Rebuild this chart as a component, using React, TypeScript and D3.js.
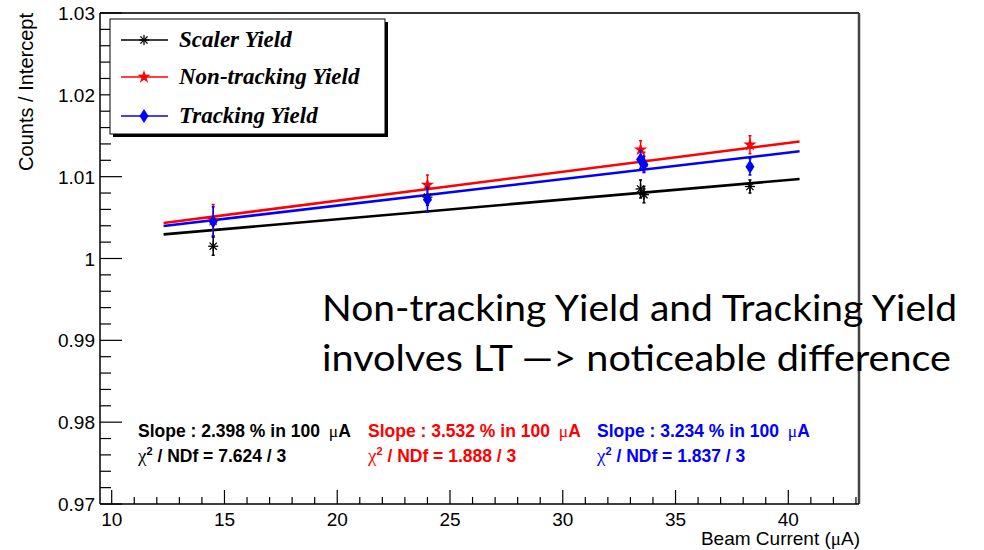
import React from "react";
import * as d3 from "d3";

// Beam current of each run (uA)
const beamCurrent = [14.5, 24.0, 33.45, 33.6, 38.3];
// Normalised yields (counts / fit intercept) and their uncertainties
const scalerYield = [1.0015, 1.0075, 1.0085, 1.0078, 1.0088];
const scalerErr = [0.0011, 0.001, 0.0011, 0.001, 0.0008];
const nonTrackingYield = [1.0047, 1.009, 1.0133, 1.0118, 1.0139];
const nonTrackingErr = [0.0019, 0.0012, 0.0011, 0.0012, 0.0011];
const trackingYield = [1.00452, 1.0072, 1.0121, 1.0115, 1.0112];
const trackingErr = [0.0018, 0.0015, 0.0011, 0.001, 0.001];

// Linear fit results: slope in % per 100 uA, chi2 and degrees of freedom
const seriesNames = ["Scaler Yield", "Non-tracking Yield", "Tracking Yield"];
const slopes = [2.398, 3.532, 3.234];
const chi2 = [7.624, 1.888, 1.837];
const ndf = [3, 3, 3];
const fitRange = [12.3, 40.5];

const xTicks = [10, 15, 20, 25, 30, 35, 40];
const yTicks = [0.97, 0.98, 0.99, 1.0, 1.01, 1.02, 1.03];

const noteLines = [
  "Non-tracking Yield and Tracking Yield",
  "involves LT —> noticeable difference",
];

const colors = ["#000000", "#ff0000", "#0000ff"];
const SANS = "'Liberation Sans', Arial, Helvetica, sans-serif";
const SERIF = "'Liberation Serif', 'Times New Roman', serif";
const NOTE_FONT = "Lato, 'Open Sans', sans-serif";

const W = 984;
const H = 550;
const left = 100;
const right = 859;
const top = 13;
const bottom = 504;

const x = d3.scaleLinear().domain([9.481, 43.135]).range([left, right]);
const y = d3.scaleLinear().domain([0.97, 1.03]).range([bottom, top]);

function Marker({ kind, cx, cy, color }: { kind: number; cx: number; cy: number; color: string }) {
  if (kind === 0) {
    const r = 5;
    const d = r * 0.72;
    return (
      <g stroke={color} strokeWidth={1.3}>
        <line x1={cx - r} y1={cy} x2={cx + r} y2={cy} />
        <line x1={cx} y1={cy - r} x2={cx} y2={cy + r} />
        <line x1={cx - d} y1={cy - d} x2={cx + d} y2={cy + d} />
        <line x1={cx - d} y1={cy + d} x2={cx + d} y2={cy - d} />
      </g>
    );
  }
  if (kind === 1) {
    const p = d3.symbol().type(d3.symbolStar).size(55)();
    return <path d={p || ""} transform={`translate(${cx},${cy})`} fill={color} />;
  }
  const hw = 4.5;
  const hh = 7;
  return (
    <path
      d={`M${cx},${cy - hh}L${cx + hw},${cy}L${cx},${cy + hh}L${cx - hw},${cy}Z`}
      fill={color}
    />
  );
}

export default function App() {
  const series = [
    { vals: scalerYield, errs: scalerErr },
    { vals: nonTrackingYield, errs: nonTrackingErr },
    { vals: trackingYield, errs: trackingErr },
  ];

  const xMinor = d3.range(10, 44, 1).filter((v) => v % 5 !== 0);
  const yMinor = d3.range(0, 31).map((i) => 0.97 + i * 0.002).filter((_, i) => i % 5 !== 0);

  const legendRows = [40, 77, 116];
  const statX = [138, 368, 597];
  const noteY = [321, 371];
  const noteWidth = [635, 629];

  return (
    <svg
      width={W}
      height={H}
      style={{ position: "absolute", left: 0, top: 0, background: "#fff" }}
      xmlns="http://www.w3.org/2000/svg"
    >
      <rect x={0} y={0} width={W} height={H} fill="#fff" />

      {/* frame */}
      <line x1={left} y1={top} x2={right} y2={top} stroke="#333" strokeWidth={2} />
      <line x1={right} y1={top} x2={right} y2={bottom} stroke="#444" strokeWidth={2.5} />

      {/* fit lines */}
      {slopes.map((s, k) => {
        const pts = fitRange.map((v) => [x(v), y(1 + (s / 1e4) * v)] as [number, number]);
        return (
          <path
            key={`fit${k}`}
            d={d3.line()(pts) || ""}
            stroke={colors[k]}
            strokeWidth={2.6}
            fill="none"
          />
        );
      })}

      {/* data points with error bars */}
      {series.map((s, k) => (
        <g key={`s${k}`}>
          {s.vals.map((v, i) => {
            const cx = x(beamCurrent[i]);
            const y1 = y(v + s.errs[i]);
            const y2 = y(v - s.errs[i]);
            return (
              <g key={i}>
                <line x1={cx} y1={y1} x2={cx} y2={y2} stroke={colors[k]} strokeWidth={1.5} />
                <line x1={cx - 1.5} y1={y1} x2={cx + 1.5} y2={y1} stroke={colors[k]} strokeWidth={1.5} />
                <line x1={cx - 1.5} y1={y2} x2={cx + 1.5} y2={y2} stroke={colors[k]} strokeWidth={1.5} />
                <Marker kind={k} cx={cx} cy={y(v)} color={colors[k]} />
              </g>
            );
          })}
        </g>
      ))}

      {/* axes */}
      <line x1={left} y1={bottom} x2={right} y2={bottom} stroke="#000" strokeWidth={1.5} />
      <line x1={left} y1={top} x2={left} y2={bottom} stroke="#000" strokeWidth={1.5} />
      {xTicks.map((t) => (
        <g key={`xt${t}`}>
          <line x1={x(t)} y1={bottom} x2={x(t)} y2={bottom - 14} stroke="#000" strokeWidth={1.2} />
          <text x={x(t)} y={526} textAnchor="middle" fontFamily={SANS} fontSize={19}>
            {t}
          </text>
        </g>
      ))}
      {xMinor.map((t) => (
        <line key={`xm${t}`} x1={x(t)} y1={bottom} x2={x(t)} y2={bottom - 7} stroke="#000" strokeWidth={1.2} />
      ))}
      {yTicks.map((t) => (
        <g key={`yt${t}`}>
          <line x1={left} y1={y(t)} x2={left + 22} y2={y(t)} stroke="#000" strokeWidth={1.2} />
          <text x={95} y={y(t) + 7} textAnchor="end" fontFamily={SANS} fontSize={19}>
            {t === 1 ? "1" : t.toFixed(2)}
          </text>
        </g>
      ))}
      {yMinor.map((t, i) => (
        <line key={`ym${i}`} x1={left} y1={y(t)} x2={left + 11} y2={y(t)} stroke="#000" strokeWidth={1.2} />
      ))}

      <text
        transform="translate(33,13) rotate(-90)"
        textAnchor="end"
        fontFamily={SANS}
        fontSize={20}
      >
        Counts / Intercept
      </text>
      <text x={860} y={545} textAnchor="end" fontFamily={SANS} fontSize={19}>
        Beam Current (
        <tspan fontFamily={SERIF}>μ</tspan>A)
      </text>

      {/* legend */}
      <rect x={113} y={22} width={275} height={115} fill="#000" />
      <rect x={110} y={19} width={275} height={115} fill="#fff" stroke="#000" strokeWidth={1} />
      {seriesNames.map((name, k) => (
        <g key={`lg${k}`}>
          <line x1={121} y1={legendRows[k]} x2={168} y2={legendRows[k]} stroke={colors[k]} strokeWidth={1.3} />
          <Marker kind={k} cx={144} cy={legendRows[k]} color={colors[k]} />
          <text
            x={179}
            y={legendRows[k] + 7}
            fontFamily={SERIF}
            fontWeight="bold"
            fontStyle="italic"
            fontSize={23}
            fill="#000"
          >
            {name}
          </text>
        </g>
      ))}

      {/* fit statistics */}
      {slopes.map((s, k) => (
        <g key={`st${k}`} fill={colors[k]} fontFamily={SANS} fontWeight="bold" fontSize={17.5}>
          <text x={statX[k]} y={437}>
            {`Slope : ${s.toFixed(3)} % in 100 `}
            <tspan dx={4} fontFamily={SERIF} fontWeight="normal">μ</tspan>
            <tspan>A</tspan>
          </text>
          <text x={statX[k]} y={462}>
            <tspan fontFamily={SERIF} fontWeight="normal" fontSize={19}>χ</tspan>
            <tspan dy={-7} fontSize={11}>2</tspan>
            <tspan dy={7}>{` / NDf = ${chi2[k].toFixed(3)} / ${ndf[k]}`}</tspan>
          </text>
        </g>
      ))}

      {/* annotation */}
      {noteLines.map((line, i) => (
        <text
          key={`note${i}`}
          x={322}
          y={noteY[i]}
          fontFamily={NOTE_FONT}
          fontSize={37}
          textLength={noteWidth[i]}
          lengthAdjust="spacingAndGlyphs"
          fill="#000"
        >
          {line}
        </text>
      ))}
    </svg>
  );
}
